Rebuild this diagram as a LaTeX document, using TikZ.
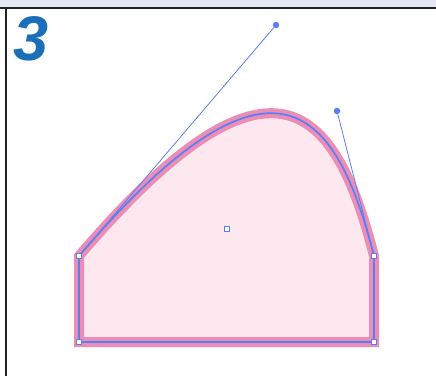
\documentclass[tikz,border=0pt]{standalone}
\usepackage{fontspec}
\setmainfont{Liberation Sans}
\definecolor{bandgray}{HTML}{E3E8F2}
\definecolor{framedark}{HTML}{222222}
\definecolor{shapepink}{HTML}{EC8DB5}
\definecolor{shapefill}{HTML}{FDE8F0}
\definecolor{pathblue}{HTML}{5A7FF5}
\definecolor{stepblue}{HTML}{1A6FB8}
\tikzset{
    x=1pt, y=-1pt,
    anchorpt/.style={
        draw=pathblue,
        fill=white,
        line width=1.2pt,
        rectangle,
        minimum size=5pt,
        inner sep=0pt
    },
    handlept/.style={
        fill=pathblue,
        circle,
        minimum size=6.5pt,
        inner sep=0pt
    },
    handleline/.style={
        draw=pathblue,
        line width=0.8pt
    }
}
\begin{document}
\begin{tikzpicture}
    \useasboundingbox (0,0) rectangle (436,376);
    \fill[bandgray] (0,0) rectangle (436,7);
    \draw[framedark, line width=2pt] (0,7.5) -- (436,7.5);
    \draw[framedark, line width=2pt] (5.5,7.5) -- (5.5,376);

    \node[anchor=north west, inner sep=0pt, text=stepblue,
          font=\fontsize{63}{63}\selectfont\bfseries\itshape] (step) at (13,16) {3};

    % path points
    \coordinate (tl) at (79,256);
    \coordinate (bl) at (79,342);
    \coordinate (br) at (374,342);
    \coordinate (tr) at (374,256);
    \coordinate (c1) at (276,25);
    \coordinate (c2) at (337,111);

    \draw[shapepink, fill=shapefill, line width=10pt]
        (tl) .. controls (c1) and (c2) .. (tr) -- (br) -- (bl) -- cycle;
    \draw[pathblue, line width=1.7pt]
        (tl) .. controls (c1) and (c2) .. (tr) -- (br) -- (bl) -- cycle;

    \node[handlept] (h1) at (c1) {};
    \node[handlept] (h2) at (c2) {};
    \draw[handleline] (tl) -- (h1);
    \draw[handleline] (tr) -- (h2);

    \node[anchorpt] (ptl) at (tl) {};
    \node[anchorpt] (pbl) at (bl) {};
    \node[anchorpt] (pbr) at (br) {};
    \node[anchorpt] (ptr) at (tr) {};
    \node[anchorpt, line width=1.5pt, minimum size=5pt] (mid) at (227,229) {};
\end{tikzpicture}
\end{document}
